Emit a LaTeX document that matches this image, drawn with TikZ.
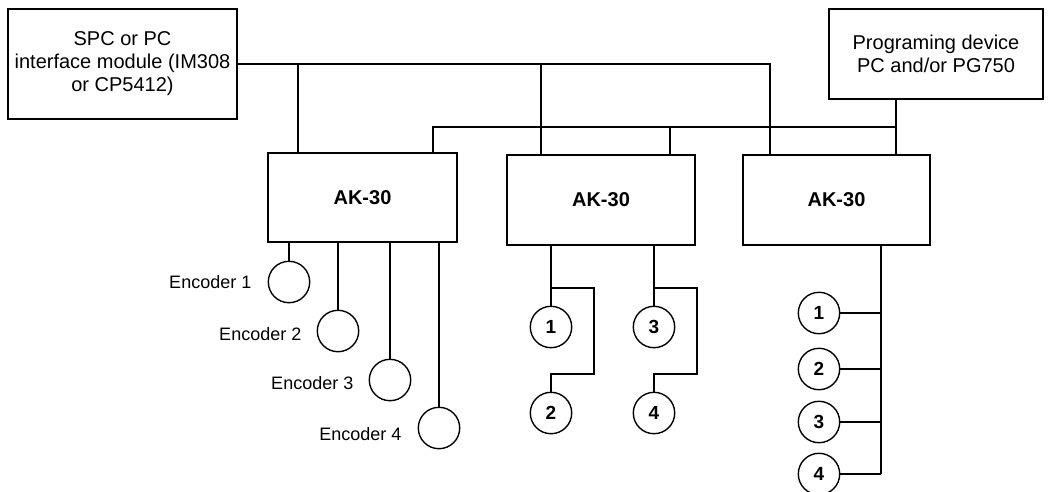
\documentclass[tikz,border=0pt]{standalone}
\usepackage{fontspec}
\setmainfont{Liberation Sans}
\begin{document}
\begin{tikzpicture}[x=1pt,y=-1pt, line width=1.4pt,
  box/.style={draw, rectangle, inner sep=0pt, font=\fontsize{20}{23}\selectfont, align=center},
  bbox/.style={box, font=\fontsize{20}{23}\selectfont\bfseries},
  enc/.style={draw, circle, minimum size=41.4pt, inner sep=0pt, font=\fontsize{19}{22}\selectfont\bfseries},
  lbl/.style={anchor=east, inner sep=0pt, font=\fontsize{18}{21}\selectfont}]
\useasboundingbox (0,0) rectangle (1048,491);

% boxes
\node[box, minimum width=229pt, minimum height=110pt] (spc) at (122.5,64) {SPC or PC\\interface module (IM308\\or CP5412)};
\node[box, minimum width=214pt, minimum height=90pt] (pg) at (936,54) {Programing device\\PC and/or PG750};
\node[bbox, minimum width=189pt, minimum height=89pt] (ak1) at (362.5,197.5) {AK-30};
\node[bbox, minimum width=188pt, minimum height=90pt] (ak2) at (601,200) {AK-30};
\node[bbox, minimum width=187pt, minimum height=90pt] (ak3) at (836.5,200) {AK-30};

% bus 1
\coordinate (b1) at (770,64);
\draw (spc.east) -- (b1) -- (b1 |- ak3.north);
\coordinate (t1) at (298,64);
\draw (t1) -- (t1 |- ak1.north);
\coordinate (t2) at (541,64);
\draw (t2) -- (t2 |- ak2.north);

% bus 2
\coordinate (b2l) at (433,127);
\coordinate (b2r) at (896,127);
\draw (b2l |- ak1.north) -- (b2l) -- (b2r);
\draw (pg.south -| b2r) -- (b2r |- ak3.north);
\coordinate (t3) at (670,127);
\draw (t3) -- (t3 |- ak2.north);

% encoders of AK-30 #1
\node[enc] (e1) at (289,282) {};
\node[enc] (e2) at (338,331) {};
\node[enc] (e3) at (390,380) {};
\node[enc] (e4) at (439,428) {};
\foreach \e in {e1,e2,e3,e4}{\draw (\e.north |- ak1.south) -- (\e.north);}
\node[lbl] (l1) at (252,282) {Encoder 1};
\node[lbl] (l2) at (302,334) {Encoder 2};
\node[lbl] (l3) at (354,383) {Encoder 3};
\node[lbl] (l4) at (402,434) {Encoder 4};

% AK-30 #2
\node[enc] (c1) at (551,327) {1};
\node[enc] (c2) at (551,413) {2};
\node[enc] (c3) at (654,327) {3};
\node[enc] (c4) at (654,413) {4};
\draw (c1.north |- ak2.south) -- (c1.north);
\draw (c3.north |- ak2.south) -- (c3.north);
\coordinate (j1) at (551,288);
\coordinate (r1) at (594,374);
\coordinate (j3) at (654,288);
\coordinate (r3) at (697,374);
\draw (j1) -| (r1) -| (c2.north);
\draw (j3) -| (r3) -| (c4.north);

% AK-30 #3
\node[enc] (d1) at (819,313) {1};
\node[enc] (d2) at (819,369) {2};
\node[enc] (d3) at (819,422) {3};
\node[enc] (d4) at (819,474) {4};
\coordinate (v) at (881,245);
\draw (v |- ak3.south) -- (v |- d4.east);
\foreach \d in {d1,d2,d3,d4}{\draw (\d.east) -- (\d.east -| v);}
\end{tikzpicture}
\end{document}
